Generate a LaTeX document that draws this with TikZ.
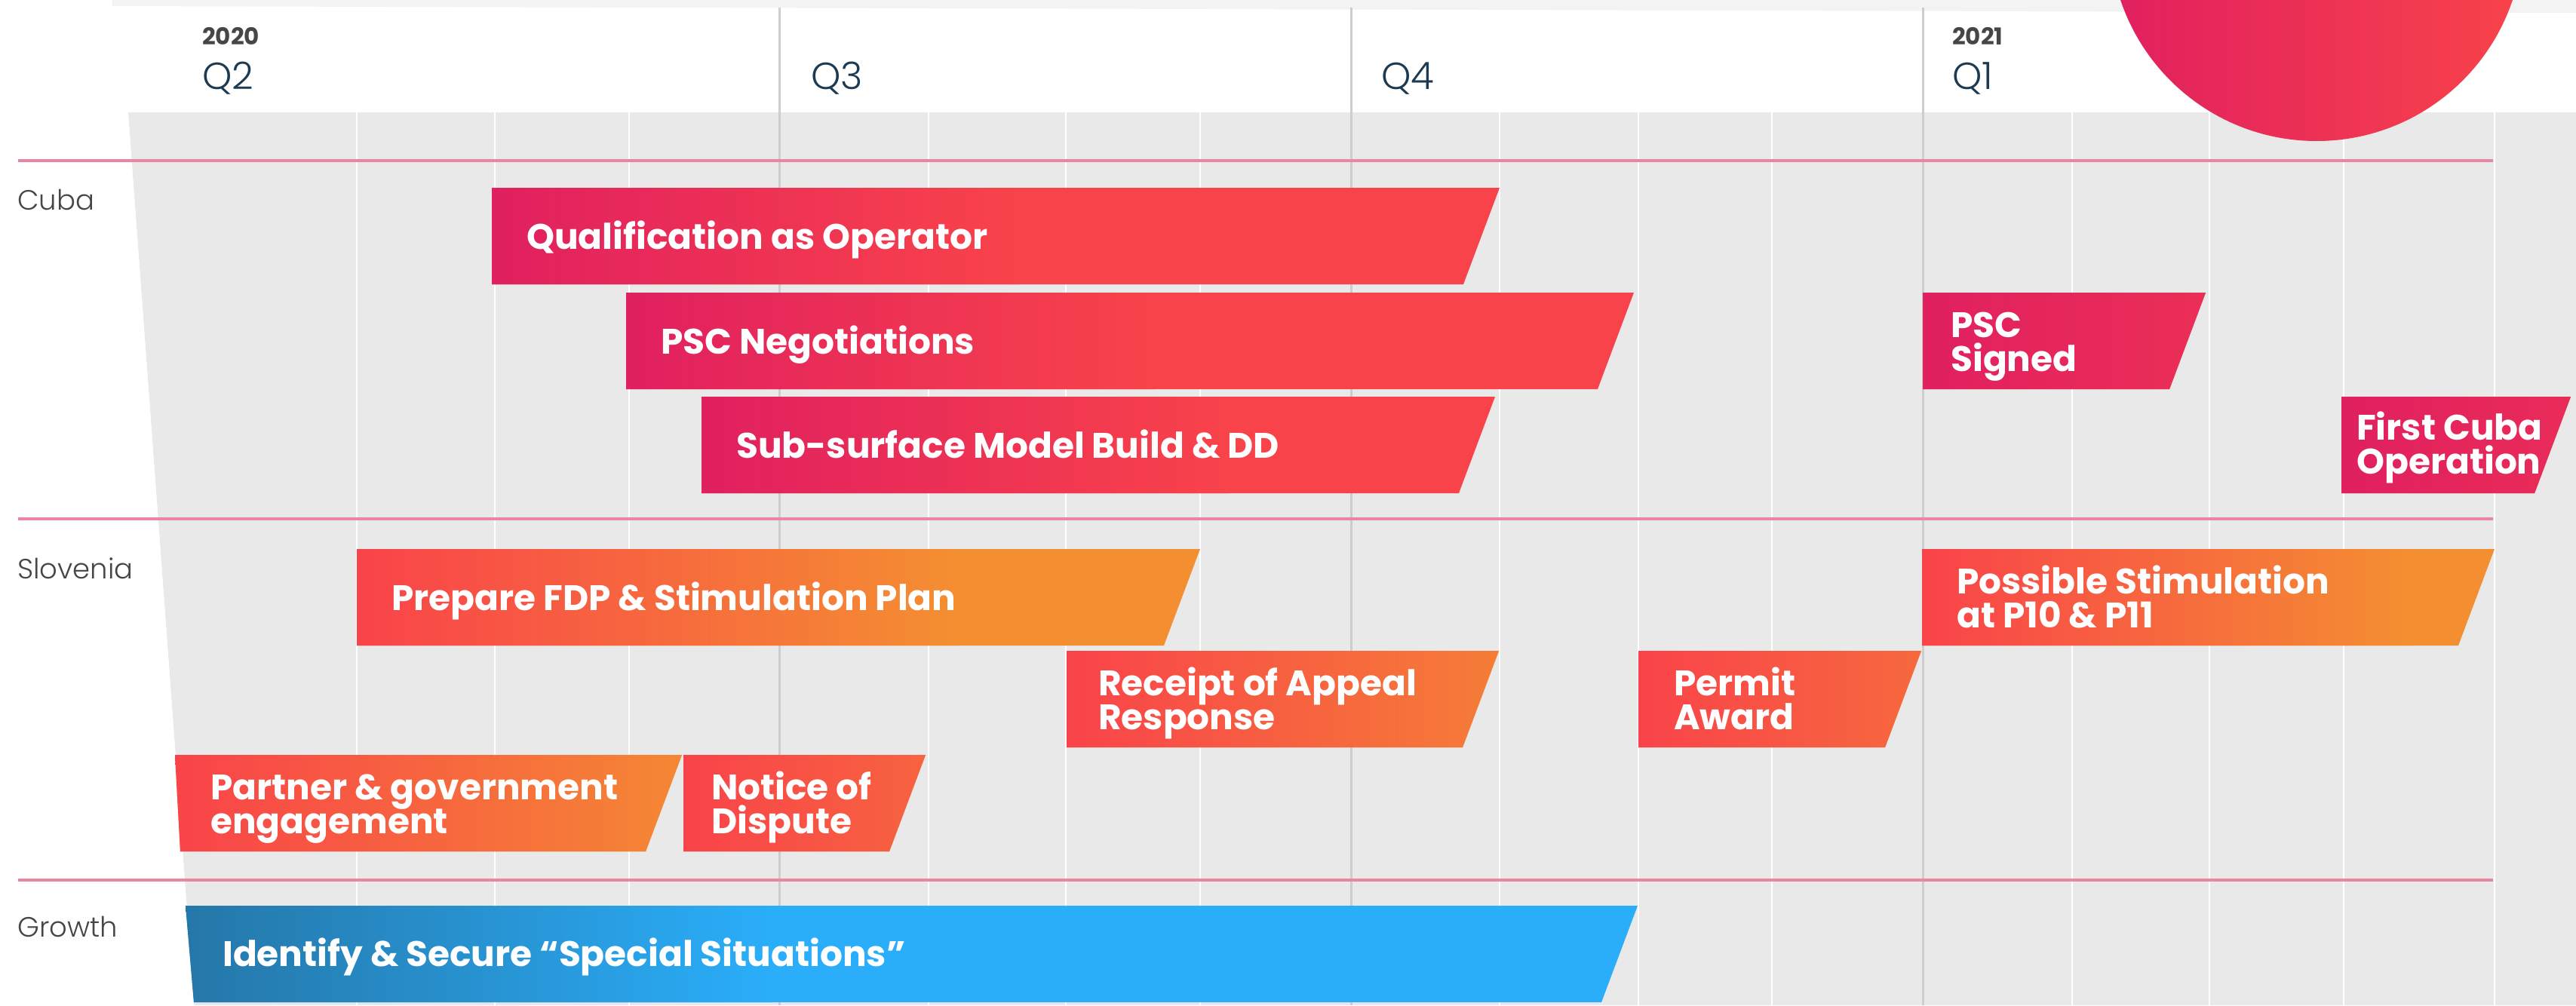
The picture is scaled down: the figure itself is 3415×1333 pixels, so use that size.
\documentclass[tikz,border=0pt]{standalone}
\usepackage{fontspec}
\newfontfamily\poppins{Poppins}
\IfFontExistsTF{Poppins Bold}{\newfontfamily\barfont{Poppins Bold}}{\newcommand\barfont{\poppins\bfseries}}
\IfFontExistsTF{Poppins Light}{\newfontfamily\lightfont{Poppins Light}}{\newcommand\lightfont{\poppins}}

\definecolor{cubaA}{HTML}{E0205F}
\definecolor{cubaB}{HTML}{F9434A}
\definecolor{sloA}{HTML}{F9434A}
\definecolor{sloB}{HTML}{F48F31}
\definecolor{groA}{HTML}{2577A8}
\definecolor{groB}{HTML}{2AAEFA}
\definecolor{chart}{HTML}{E9E9E9}
\definecolor{band}{HTML}{F3F3F3}
\definecolor{qline}{HTML}{CDCDCD}
\definecolor{sep}{HTML}{E8879F}
\definecolor{rowlabel}{HTML}{464646}
\definecolor{quartertext}{HTML}{1C3B53}

% #1 left x at top, #2 left x at bottom, #3 top y, #4 right x at top,
% #5 start colour, #6 end colour, #7 length of the colour ramp
\newcommand\taskbar[7]{%
  \begin{scope}
    \clip (#1,#3) -- (#4,#3) -- ({#4-48},{#3+128}) -- (#2,{#3+128}) -- cycle;
    \fill[#6] ({min(#1,#2)-2},{#3-2}) rectangle ({#4+2},{#3+130});
    \shade[left color=#5, right color=#6] ({min(#1,#2)},{#3-2}) rectangle ({min(#1,#2)+#7},{#3+130});
  \end{scope}}

\tikzset{
  bartext/.style={text=white, font=\barfont\fontsize{47}{47}\selectfont, anchor=base west, inner sep=0pt},
  rowname/.style={text=rowlabel, font=\lightfont\fontsize{37}{37}\selectfont, anchor=base west, inner sep=0pt},
  quarter/.style={text=quartertext, font=\lightfont\fontsize{50}{50}\selectfont, anchor=base west, inner sep=0pt},
  year/.style={text=rowlabel, font=\poppins\bfseries\fontsize{31}{31}\selectfont, anchor=base west, inner sep=0pt},
  gridline/.style={white, line width=2.5pt},
  quarterline/.style={qline, line width=3pt},
  separator/.style={sep, line width=4pt},
}

\begin{document}
\begin{tikzpicture}[x=1pt, y=-1pt]
\useasboundingbox (0,0) rectangle (3415,1333);
\clip (0,0) rectangle (3415,1333);
\fill[white] (0,0) rectangle (3415,1333);

% top strip and chart field
\fill[band] (149,0) -- (3415,0) -- (3415,17) -- (149,8) -- cycle;
\fill[chart] (170,149) -- (3415,149) -- (3415,1333) -- (257.4,1333) -- cycle;

% month grid
\foreach \gx in {473,656,834,1231,1413,1591,1988,2172,2349,2747,2929,3107,3307}
  \draw[gridline] (\gx,149) -- (\gx,1333);
% quarter boundaries
\foreach \gx in {1033,1791,2549}
  \draw[quarterline] (\gx,10) -- (\gx,1333);

% row separators
\foreach \gy in {213,688,1167}
  \draw[separator] (24,\gy) -- (3305,\gy);

% badge in the corner
\shade[left color=cubaA, right color=cubaB] (3071,-87) circle (274pt);

% header
\node[year] (y2020) at (268,59) {2020};
\node[quarter] (q2) at (268,118) {Q2};
\node[quarter] (q3) at (1075,118) {Q3};
\node[quarter] (q4) at (1831,118) {Q4};
\node[year] (y2021) at (2588,59) {2021};
\node[quarter] (q1) at (2588,118) {Q1};

% row names
\node[rowname] (cuba) at (23,278) {Cuba};
\node[rowname] (slovenia) at (23,767) {Slovenia};
\node[rowname] (growth) at (23,1242) {Growth};

% Cuba
\taskbar{652}{652}{249}{1988}{cubaA}{cubaB}{700}
\node[bartext] (qual) at (698,330) {Qualification as Operator};
\taskbar{830}{830}{388}{2166}{cubaA}{cubaB}{700}
\node[bartext] (pscneg) at (876,469) {PSC Negotiations};
\taskbar{930}{930}{526}{1982}{cubaA}{cubaB}{700}
\node[bartext] (subsurf) at (976,607) {Sub-surface Model Build \& DD};
\taskbar{2549}{2549}{388}{2924}{cubaA}{cubaB}{900}
\node[bartext] (pscsig) at (2586,447) {PSC};
\node[bartext] (pscsig2) at (2586,492) {Signed};
\taskbar{3104}{3104}{526}{3408}{cubaA}{cubaB}{900}
\node[bartext] (firstop) at (3124,583) {First Cuba};
\node[bartext] (firstop2) at (3124,628) {Operation};

% Slovenia
\taskbar{473}{473}{728}{1591}{sloA}{sloB}{800}
\node[bartext] (fdp) at (519,809) {Prepare FDP \& Stimulation Plan};
\taskbar{2548}{2548}{728}{3307}{sloA}{sloB}{650}
\node[bartext] (stim) at (2594,787) {Possible Stimulation};
\node[bartext] (stim2) at (2594,832) {at P10 \& P11};
\taskbar{1414}{1414}{863}{1987}{sloA}{sloB}{750}
\node[bartext] (appeal) at (1456,922) {Receipt of Appeal};
\node[bartext] (appeal2) at (1456,967) {Response};
\taskbar{2172}{2172}{863}{2547}{sloA}{sloB}{750}
\node[bartext] (permit) at (2219,922) {Permit};
\node[bartext] (permit2) at (2219,967) {Award};
\taskbar{232}{239}{1001}{904}{sloA}{sloB}{750}
\node[bartext] (partner) at (279,1060) {Partner \& government};
\node[bartext] (partner2) at (279,1105) {engagement};
\taskbar{906}{906}{1001}{1227}{sloA}{sloB}{750}
\node[bartext] (dispute) at (943,1060) {Notice of};
\node[bartext] (dispute2) at (943,1105) {Dispute};

% Growth
\taskbar{246}{257}{1201}{2171}{groA}{groB}{780}
\node[bartext] (special) at (295,1281) {Identify \& Secure “Special Situations”};
\end{tikzpicture}
\end{document}
